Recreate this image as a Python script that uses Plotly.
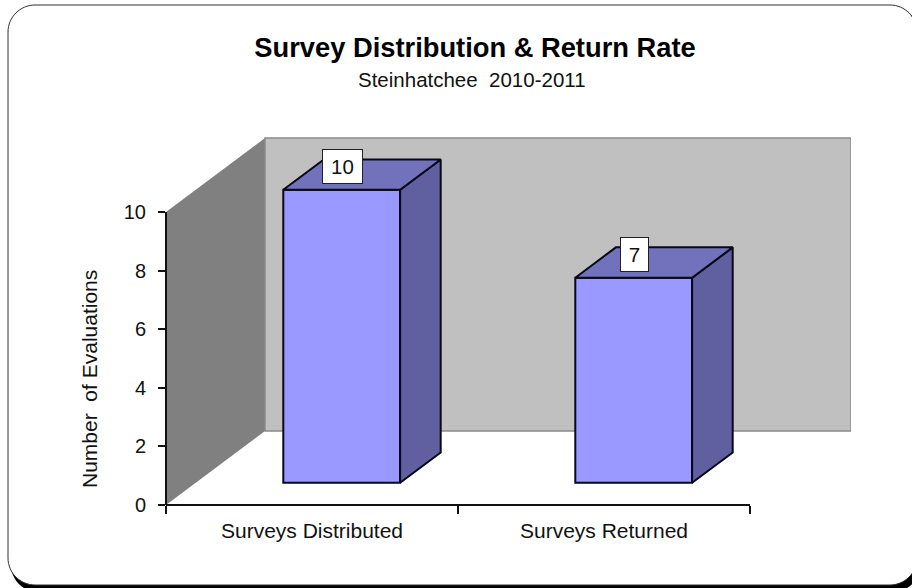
import plotly.graph_objects as go

categories = ["Surveys Distributed", "Surveys Returned"]
values = [10, 7]
y_ticks = [0, 2, 4, 6, 8, 10]

# pixel geometry of the plot area
L, R, T, B = 166, 851, 137, 505
W, H = 912, 588
X_PER_CAT = 292.0
Y_PER_UNIT = 29.3
xmax = (R - L) / X_PER_CAT
ymax = (B - T) / Y_PER_UNIT

# 3-D projection: full floor depth in data units
DEPTH_X = 99 / X_PER_CAT
DEPTH_Y = 74 / Y_PER_UNIT
BAR_NEAR, BAR_FAR = 0.30, 0.71
BAR_W = 0.40


def px(x):
    return (x - L) / (R - L)


def py(y):
    return (B - y) / (B - T)


def rounded(x0, y0, x1, y1, r):
    k = r * 0.45
    return (
        f"M {px(x0 + r)} {py(y0)} L {px(x1 - r)} {py(y0)} "
        f"C {px(x1 - k)} {py(y0)} {px(x1)} {py(y0 + k)} {px(x1)} {py(y0 + r)} "
        f"L {px(x1)} {py(y1 - r)} "
        f"C {px(x1)} {py(y1 - k)} {px(x1 - k)} {py(y1)} {px(x1 - r)} {py(y1)} "
        f"L {px(x0 + r)} {py(y1)} "
        f"C {px(x0 + k)} {py(y1)} {px(x0)} {py(y1 - k)} {px(x0)} {py(y1 - r)} "
        f"L {px(x0)} {py(y0 + r)} "
        f"C {px(x0)} {py(y0 + k)} {px(x0 + k)} {py(y0)} {px(x0 + r)} {py(y0)} Z"
    )


centers = [i + 0.5 for i in range(len(categories))]
top_val = max(y_ticks)
EDGE = "#080818"

fig = go.Figure()

# front faces
nx, ny = BAR_NEAR * DEPTH_X, BAR_NEAR * DEPTH_Y
fx, fy = BAR_FAR * DEPTH_X, BAR_FAR * DEPTH_Y
fig.add_trace(go.Bar(
    x=[c + nx for c in centers], y=values, base=[ny] * len(values), width=BAR_W,
    marker=dict(color="#9999ff", line=dict(color=EDGE, width=2)),
    hoverinfo="skip", showlegend=False))

# side and top faces
for c, v in zip(centers, values):
    xl, xr = c + nx - BAR_W / 2, c + nx + BAR_W / 2
    yb, yt = ny, ny + v
    dx, dy = fx - nx, fy - ny
    fig.add_trace(go.Scatter(
        x=[xr, xr + dx, xr + dx, xr, xr], y=[yb, yb + dy, yt + dy, yt, yb],
        mode="lines", fill="toself", fillcolor="#6060a0",
        line=dict(color=EDGE, width=2), hoverinfo="skip", showlegend=False))
    fig.add_trace(go.Scatter(
        x=[xl, xr, xr + dx, xl + dx, xl], y=[yt, yt, yt + dy, yt + dy, yt],
        mode="lines", fill="toself", fillcolor="#7272bc",
        line=dict(color=EDGE, width=2), hoverinfo="skip", showlegend=False))

FONT = "Liberation Sans, Arial, sans-serif"

annotations = [
    dict(text="Steinhatchee  2010-2011", xref="paper", yref="paper",
         x=px(472), y=py(79), showarrow=False, xanchor="center", yanchor="middle",
         font=dict(family=FONT, size=20.5, color="#111")),
    dict(text="Number  of Evaluations", xref="paper", yref="paper",
         x=px(89), y=py(379), showarrow=False, textangle=-90,
         xanchor="center", yanchor="middle",
         font=dict(family=FONT, size=21, color="#111")),
]
for c, v in zip(centers, values):
    annotations.append(dict(
        text=str(v), x=c + 0.103, y=v + 1.55, showarrow=False,
        xanchor="center", yanchor="middle", align="center", valign="middle",
        width=37 if v >= 10 else 25, height=31, bgcolor="white",
        bordercolor="#202020", borderwidth=1, borderpad=1,
        font=dict(family=FONT, size=20.5, color="#111")))

shapes = [
    dict(type="path", xref="paper", yref="paper", layer="below",
         path=rounded(11, 8, 920, 592, 27), fillcolor="black", line=dict(width=0)),
    dict(type="path", xref="paper", yref="paper", layer="below",
         path=rounded(8, 5, 917, 585, 27), fillcolor="white",
         line=dict(color="#303030", width=1)),
    # left wall and back wall
    dict(type="path", xref="x", yref="y", layer="below",
         path=f"M 0 0 L {DEPTH_X} {DEPTH_Y} L {DEPTH_X} {DEPTH_Y + top_val} L 0 {top_val} Z",
         fillcolor="#808080", line=dict(width=0)),
    dict(type="rect", xref="x", yref="y", layer="below",
         x0=DEPTH_X, x1=xmax, y0=DEPTH_Y, y1=DEPTH_Y + top_val,
         fillcolor="#c0c0c0", line=dict(color="#8a8a8a", width=1.5)),
    # axis lines (paper-referenced so they are not clipped at the plot edge)
    dict(type="line", xref="paper", yref="paper", layer="above",
         x0=0, x1=len(categories) / xmax, y0=0, y1=0,
         line=dict(color="#111111", width=2)),
    dict(type="line", xref="paper", yref="paper", layer="above",
         x0=0, x1=0, y0=0, y1=top_val / ymax,
         line=dict(color="#111111", width=2)),
]

fig.update_layout(
    width=W, height=H, autosize=False,
    margin=dict(l=L, r=W - R, t=T, b=H - B, pad=0),
    paper_bgcolor="white", plot_bgcolor="rgba(0,0,0,0)",
    barmode="overlay", showlegend=False,
    title=dict(text="<b>Survey Distribution & Return Rate</b>",
               xref="paper", yref="container", x=px(475), y=1 - 47 / H,
               xanchor="center", yanchor="middle",
               font=dict(family=FONT, size=27.3, color="black")),
    xaxis=dict(range=[0, xmax], showgrid=False, zeroline=False, showline=False,
               tickmode="array", tickvals=centers, ticktext=categories,
               ticks="", ticklen=0, ticklabelstandoff=11,
               tickfont=dict(family=FONT, size=21, color="#111"),
               minor=dict(tickmode="array", tickvals=list(range(len(categories) + 1)),
                          ticks="outside", ticklen=8, tickwidth=2,
                          tickcolor="#111111", showgrid=False)),
    yaxis=dict(range=[0, ymax], showgrid=False, zeroline=False, showline=False,
               tickmode="array", tickvals=y_ticks,
               ticks="outside", ticklen=7, tickwidth=2, tickcolor="#111111",
               ticklabelstandoff=8,
               tickfont=dict(family=FONT, size=20, color="#111")),
    annotations=annotations, shapes=shapes,
)

fig.write_html(
    "out.html",
    config=dict(displayModeBar=False),
    post_script="document.body.style.margin='0';document.body.style.overflow='hidden';",
)
